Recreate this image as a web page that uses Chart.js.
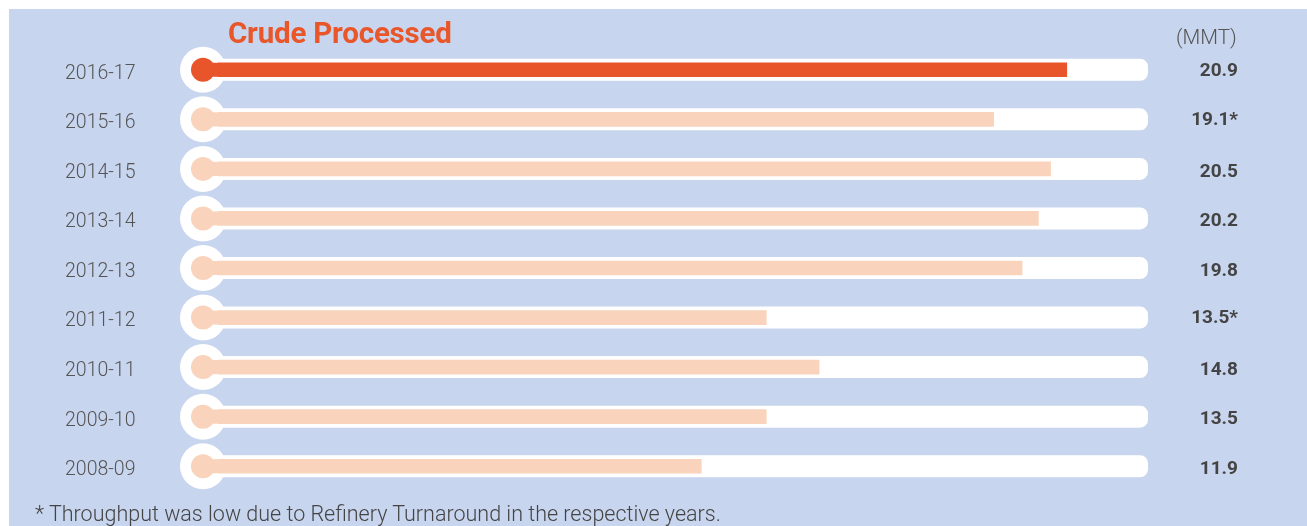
<!DOCTYPE html>
<html>
<head>
<meta charset="utf-8">
<script src="https://cdn.jsdelivr.net/npm/chart.js@4.4.1/dist/chart.umd.min.js"></script>
<style>
  html, body { margin: 0; padding: 0; background: #fff; }
  body { width: 1307px; height: 526px; position: relative; overflow: hidden; font-family: Roboto, "Noto Sans", sans-serif; }
  .panel { position: absolute; left: 9px; top: 9px; right: 0; bottom: 0; background: #c8d5ee; }
  #chart { position: absolute; left: 0; top: 0; }
  .title { position: absolute; left: 228px; top: 15px; font-size: 29.5px; font-weight: 700; color: #e8562a; letter-spacing: -0.2px; line-height: 36px; }
  .unit { position: absolute; left: 1176px; top: 24px; font-size: 20.5px; font-weight: 300; color: #555; line-height: 26px; }
  .note { position: absolute; left: 35px; top: 500px; font-size: 21.5px; font-weight: 300; color: #444; line-height: 28px; }
</style>
</head>
<body>
<div class="panel"></div>
<canvas id="chart" width="1307" height="526"></canvas>
<div class="title">Crude Processed</div>
<div class="unit">(MMT)</div>
<div class="note">* Throughput was low due to Refinery Turnaround in the respective years.</div>
<script>
// --- data ---
const years = ['2016-17', '2015-16', '2014-15', '2013-14', '2012-13', '2011-12', '2010-11', '2009-10', '2008-09'];
const crudeProcessed = [20.9, 19.1, 20.5, 20.2, 19.8, 13.5, 14.8, 13.5, 11.9];
const turnaround = [false, true, false, false, false, true, false, false, false];

const ORANGE = '#e8552a';
const PEACH = '#f9d3bb';
const barColors = years.map((y, i) => i === 0 ? ORANGE : PEACH);

// white tracks, knobs and value labels around each bar
const trackPlugin = {
    id: 'tracks',
    beforeDatasetsDraw(chart) {
        const ctx = chart.ctx;
        const xs = chart.scales.x;
        const ys = chart.scales.y;
        const x0 = xs.getPixelForValue(0);
        const cx = x0 - 15;
        const right = chart.chartArea.right;
        ctx.save();
        years.forEach((label, i) => {
            const y = ys.getPixelForValue(i);
            // track
            ctx.fillStyle = '#ffffff';
            ctx.beginPath();
            ctx.roundRect(cx, y - 11, right - cx, 22, 8);
            ctx.fill();
            // outer knob
            ctx.beginPath();
            ctx.arc(cx, y, 23, 0, Math.PI * 2);
            ctx.fill();
            // inner knob + connector
            ctx.fillStyle = barColors[i];
            ctx.beginPath();
            ctx.arc(cx, y, 12, 0, Math.PI * 2);
            ctx.fill();
            ctx.fillRect(cx, y - 7, x0 - cx + 1, 14);
        });
        ctx.restore();
    },
    afterDatasetsDraw(chart) {
        const ctx = chart.ctx;
        const ys = chart.scales.y;
        ctx.save();
        ctx.font = 'bold 19px Roboto';
        ctx.fillStyle = '#444';
        ctx.textAlign = 'right';
        ctx.textBaseline = 'middle';
        crudeProcessed.forEach((v, i) => {
            const y = ys.getPixelForValue(i);
            const off = (i === 0 || turnaround[i]) ? 1 : 3;
            ctx.fillText(v.toFixed(1) + (turnaround[i] ? '*' : ''), 1238, y + off);
        });
        ctx.restore();
    }
};

new Chart(document.getElementById('chart'), {
    type: 'bar',
    data: {
        labels: years,
        datasets: [{
            data: crudeProcessed,
            backgroundColor: barColors,
            barThickness: 14,
            borderWidth: 0,
            borderRadius: 0
        }]
    },
    options: {
        indexAxis: 'y',
        responsive: false,
        maintainAspectRatio: false,
        animation: false,
        layout: { padding: { left: 65, right: 159, top: 45, bottom: 35 } },
        plugins: {
            legend: { display: false },
            tooltip: { enabled: false }
        },
        scales: {
            x: {
                display: false,
                min: 0,
                max: 22.9
            },
            y: {
                grid: { display: false, drawTicks: false },
                border: { display: false },
                afterFit(scale) { scale.width = 153; },
                ticks: {
                    padding: 0,
                    crossAlign: 'far',
                    labelOffset: 4,
                    color: '#555',
                    font: { family: 'Roboto', size: 19.5, weight: '300' }
                }
            }
        }
    },
    plugins: [trackPlugin]
});
</script>
</body>
</html>
